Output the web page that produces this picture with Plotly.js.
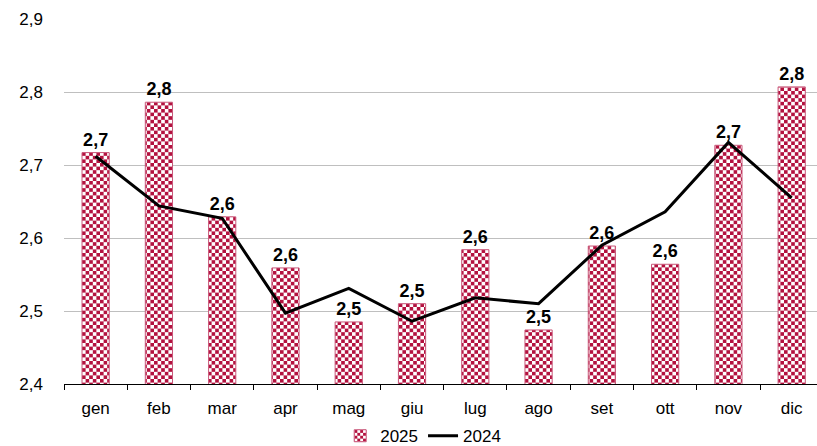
<!DOCTYPE html>
<html>
<head>
<meta charset="utf-8">
<script src="https://cdn.plot.ly/plotly-3.0.1.min.js"></script>
<style>
html,body{margin:0;padding:0;background:#fff;}
#chart{width:817px;height:446px;}
</style>
</head>
<body>
<div id="chart"></div>
<script>
const months = ["gen","feb","mar","apr","mag","giu","lug","ago","set","ott","nov","dic"];
const values2025 = [2.717, 2.786, 2.629, 2.559, 2.485, 2.510, 2.584, 2.474, 2.589, 2.564, 2.727, 2.807];
const values2024 = [2.712, 2.644, 2.627, 2.497, 2.531, 2.486, 2.518, 2.510, 2.590, 2.636, 2.731, 2.655];
const yTickVals = [2.4, 2.5, 2.6, 2.7, 2.8, 2.9];
const yTickText = ["2,4","2,5","2,6","2,7","2,8","2,9"];

const FONT = "Liberation Sans, Arial, sans-serif";
const CRIMSON = "#B3123F";

const traces = [
  {
    type: "bar",
    name: "2025",
    x: months,
    y: values2025,
    width: 0.43,
    marker: {
      color: "#ffffff",
      line: {color: "#C9587A", width: 1},
      pattern: {shape: "/", fgcolor: CRIMSON, bgcolor: "#ffffff", size: 7, solidity: 0.5}
    },
    texttemplate: "%{y:.1f}",
    textposition: "outside",
    constraintext: "none",
    cliponaxis: false,
    textfont: {family: FONT, size: 18, color: "#000", weight: "bold"},
    hoverinfo: "skip"
  },
  {
    type: "scatter",
    mode: "lines",
    name: "2024",
    x: months,
    y: values2024,
    line: {color: "#000000", width: 3},
    hoverinfo: "skip"
  }
];

const layout = {
  width: 817,
  height: 446,
  margin: {l: 64, r: 0, t: 19, b: 62, autoexpand: false},
  paper_bgcolor: "#ffffff",
  plot_bgcolor: "#ffffff",
  separators: ",.",
  font: {family: FONT, size: 17, color: "#000"},
  showlegend: true,
  legend: {
    orientation: "h",
    xref: "container", yref: "paper",
    x: 0.518, xanchor: "center",
    y: -0.143, yanchor: "middle",
    bgcolor: "rgba(0,0,0,0)",
    font: {family: FONT, size: 17, color: "#000"},
    traceorder: "normal",
    itemwidth: 30,
    tracegroupgap: 0
  },
  xaxis: {
    type: "category",
    range: [-0.5, 11.4],
    showline: true,
    linecolor: "#000",
    linewidth: 1,
    ticks: "outside",
    tickson: "boundaries",
    ticklen: 5,
    tickcolor: "#000",
    showgrid: false,
    automargin: false,
    tickfont: {family: FONT, size: 17, color: "#000"},
    ticklabelstandoff: 9
  },
  yaxis: {
    range: [2.4, 2.9],
    tickvals: yTickVals,
    ticktext: yTickText,
    showline: false,
    showgrid: true,
    gridcolor: "#BFBFBF",
    gridwidth: 1,
    zeroline: false,
    ticks: "",
    automargin: false,
    tickfont: {family: FONT, size: 17, color: "#000"},
    ticklabelstandoff: 20
  },
  bargap: 0.57
};

Plotly.newPlot("chart", traces, layout, {displayModeBar: false, staticPlot: true}).then(function(gd){
  const NS = "http://www.w3.org/2000/svg";
  const s = 7.2, h = s/2;
  gd.querySelectorAll("pattern").forEach(function(p){
    p.setAttribute("width", s);
    p.setAttribute("height", s);
    while (p.firstChild) p.removeChild(p.firstChild);
    const r = document.createElementNS(NS, "rect");
    r.setAttribute("width", s); r.setAttribute("height", s);
    r.setAttribute("fill", "#ffffff");
    p.appendChild(r);
    const path = document.createElementNS(NS, "path");
    path.setAttribute("d", "M0,0h"+h+"v"+h+"h-"+h+"zM"+h+","+h+"h"+h+"v"+h+"h-"+h+"z");
    path.setAttribute("fill", CRIMSON);
    p.appendChild(path);
  });
});
</script>
</body>
</html>
